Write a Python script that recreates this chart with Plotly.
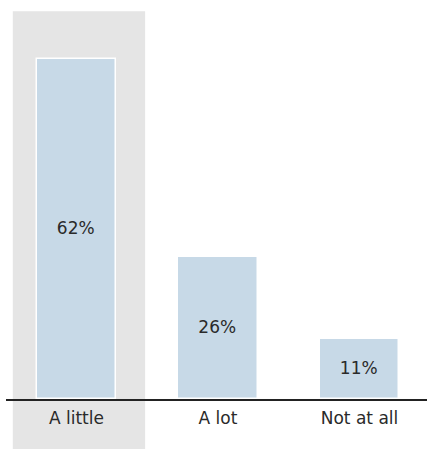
import plotly.graph_objects as go

categories = ["A little", "A lot", "Not at all"]
values = [62, 26, 11]
labels = ["62%", "26%", "11%"]
highlight_index = 0

bar_color = "#c7d9e7"
font_family = "DejaVu Sans"

fig = go.Figure()
fig.add_trace(go.Bar(
    x=list(range(len(categories))),
    y=values,
    text=labels,
    textposition="inside",
    insidetextanchor="middle",
    textangle=0,
    textfont=dict(family=font_family, size=17, color="#2a2a2a"),
    marker=dict(color=bar_color, line=dict(color="white", width=1.5)),
    width=0.56,
    hoverinfo="skip",
))

fig.add_shape(
    type="rect", xref="x", yref="paper",
    x0=highlight_index - 0.45, x1=highlight_index + 0.485,
    y0=-0.2, y1=0.972,
    fillcolor="#e5e5e5", line=dict(width=0), layer="below",
)

fig.update_layout(
    width=427, height=449,
    margin=dict(l=6, r=0, t=0, b=50),
    plot_bgcolor="white", paper_bgcolor="white",
    showlegend=False,
    bargap=0,
)
fig.update_xaxes(
    range=[-0.498, 2.477],
    tickmode="array",
    tickvals=list(range(len(categories))),
    ticktext=categories,
    tickfont=dict(family=font_family, size=17, color="#2a2a2a"),
    showline=True, linecolor="#222222", linewidth=2,
    showgrid=False, zeroline=False, ticks="",
    ticklabelstandoff=3,
)
fig.update_yaxes(
    range=[0, 72.8],
    visible=False, showgrid=False, zeroline=False,
)

fig.write_html("out.html")
